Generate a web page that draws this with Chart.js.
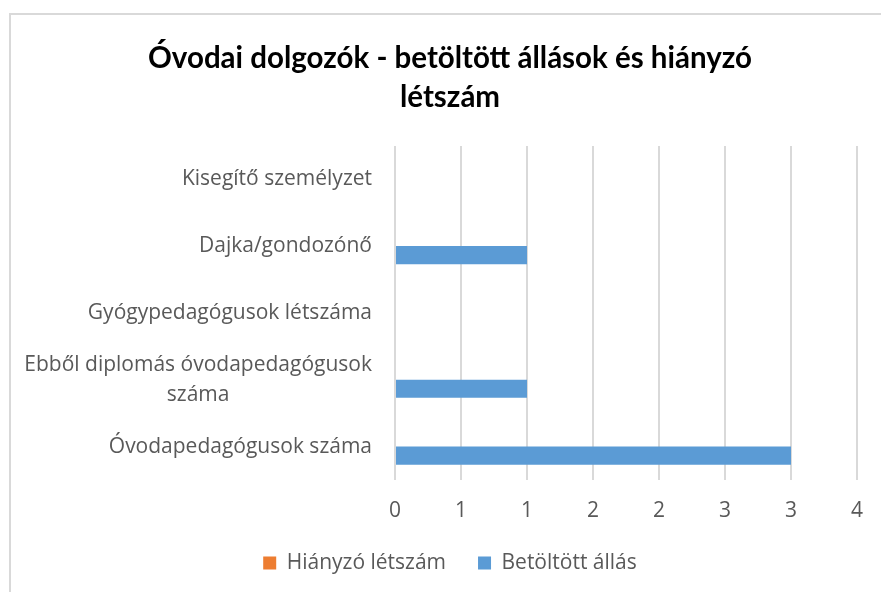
<!DOCTYPE html>
<html>
<head>
<meta charset="utf-8">
<script src="https://cdn.jsdelivr.net/npm/chart.js@4"></script>
<style>
  html, body { margin: 0; padding: 0; background: #fff; }
  #wrap { position: relative; width: 881px; height: 592px; overflow: hidden; }
  #frame { position: absolute; left: 9px; top: 13px; width: 900px; height: 600px;
           border-left: 2px solid #d9d9d9; border-top: 2px solid #d9d9d9; }
  canvas { position: absolute; left: 0; top: 0; }
</style>
</head>
<body>
<div id="wrap">
  <div id="frame"></div>
  <canvas id="chart" width="881" height="592"></canvas>
</div>
<script>
// categories, top to bottom
const categories = [
    ['Kisegítő személyzet'],
    ['Dajka/gondozónő'],
    ['Gyógypedagógusok létszáma'],
    ['Ebből diplomás óvodapedagógusok', 'száma'],
    ['Óvodapedagógusok száma']
];
const hianyzo = [0, 0, 0, 0, 0];
const betoltott = [0, 1, 0, 1, 3];
const seriesNames = ['Hiányzó létszám', 'Betöltött állás'];
const titleLines = ['Óvodai dolgozók - betöltött állások és hiányzó', 'létszám'];

const labelFont = '21px "Open Sans"';
const textGray = '#595959';

// draws the category labels the way Excel does: each wrapped label centred in its own box
const categoryLabels = {
    id: 'categoryLabels',
    afterDraw(chart) {
        const ctx = chart.ctx;
        const y = chart.scales.y;
        const right = chart.chartArea.left - 23;
        ctx.save();
        ctx.font = labelFont;
        ctx.fillStyle = textGray;
        ctx.textAlign = 'center';
        ctx.textBaseline = 'middle';
        categories.forEach((lines, i) => {
            const w = Math.max(...lines.map(l => ctx.measureText(l).width));
            const cx = right - w / 2;
            const lh = 30;
            const cy = y.getPixelForTick(i) - (lines.length - 1) * lh / 2;
            lines.forEach((l, j) => ctx.fillText(l, cx, cy + j * lh));
        });
        ctx.restore();
    }
};

new Chart(document.getElementById('chart'), {
    type: 'bar',
    data: {
        labels: categories.map(c => c.join(' ')),
        datasets: [
            { label: seriesNames[0], data: hianyzo, backgroundColor: '#ED7D31' },
            { label: seriesNames[1], data: betoltott, backgroundColor: '#5B9BD5' }
        ]
    },
    options: {
        indexAxis: 'y',
        responsive: false,
        animation: false,
        layout: { padding: { left: 43, right: 24, top: 0, bottom: 8.5 } },
        datasets: { bar: { categoryPercentage: 0.54, barPercentage: 1 } },
        scales: {
            x: {
                min: 0,
                max: 3.5,
                ticks: {
                    stepSize: 0.5,
                    padding: 18,
                    color: textGray,
                    font: { family: 'Open Sans', size: 21 },
                    callback: v => Math.round(v)
                },
                grid: { color: '#d9d9d9', lineWidth: 2, drawTicks: false },
                border: { display: false },
                afterFit: s => { s.height = 40.5; }
            },
            y: {
                ticks: { display: false },
                grid: { display: false },
                border: { display: false },
                afterFit: s => { s.width = 352; }
            }
        },
        plugins: {
            title: {
                display: true,
                text: titleLines,
                color: '#000',
                font: { family: 'Lato', size: 29.5, weight: 'bold', lineHeight: 1.32 },
                padding: { top: 39, bottom: 29 }
            },
            legend: {
                position: 'bottom',
                labels: {
                    boxWidth: 13,
                    boxHeight: 13,
                    padding: 32,
                    color: textGray,
                    font: { family: 'Open Sans', size: 21 }
                }
            },
            tooltip: { enabled: false }
        }
    },
    plugins: [categoryLabels]
});
</script>
</body>
</html>
